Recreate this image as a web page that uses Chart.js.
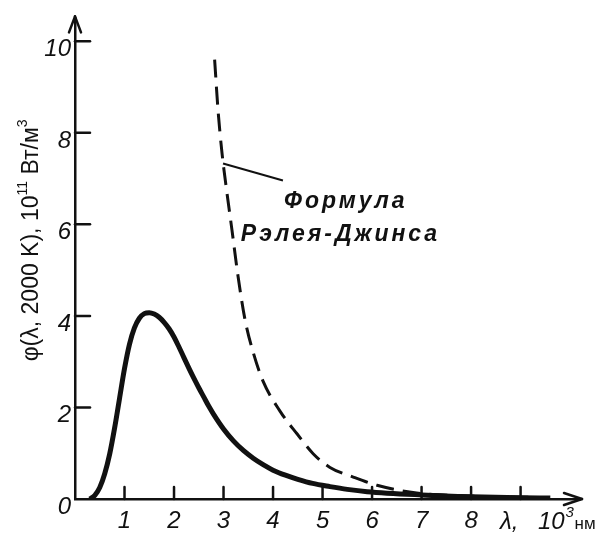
<!DOCTYPE html>
<html lang="ru">
<head>
<meta charset="utf-8">
<title>φ(λ, 2000 K)</title>
<script src="https://cdn.jsdelivr.net/npm/chart.js@4.4.1/dist/chart.umd.min.js"></script>
<style>
  html, body { margin: 0; padding: 0; background: #fff; }
  #wrap { width: 600px; height: 540px; }
</style>
</head>
<body>
<div id="wrap"><canvas id="planck" width="600" height="540"></canvas></div>
<script>
/* ============================================================
   Planck vs Rayleigh–Jeans, T = 2000 K
   ============================================================ */

/* ── DATA ── */
const lambdaPlanck = [0.3, 0.4, 0.5, 0.6, 0.7, 0.8, 0.9, 1.0, 1.1, 1.2, 1.3, 1.4, 1.5, 1.6, 1.7, 1.8, 1.9, 2.0, 2.1, 2.2, 2.3, 2.4, 2.5, 2.6, 2.7, 2.8, 3.0, 3.2, 3.4, 3.6, 3.8, 4.0, 4.25, 4.5, 4.8, 5.15, 5.5, 5.9, 7.0, 8.0, 9.0, 9.6];
const phiPlanck    = [0, 0.08, 0.25, 0.55, 0.98, 1.55, 2.2, 2.85, 3.38, 3.74, 3.95, 4.05, 4.07, 4.04, 3.97, 3.86, 3.72, 3.54, 3.32, 3.09, 2.86, 2.64, 2.43, 2.23, 2.03, 1.85, 1.53, 1.27, 1.06, 0.89, 0.75, 0.63, 0.52, 0.43, 0.34, 0.27, 0.21, 0.16, 0.09, 0.05, 0.03, 0.02];

const lambdaRJ = [2.82, 2.89, 2.97, 3.07, 3.17, 3.29, 3.43, 3.6, 3.8, 4.14, 4.48, 4.81, 5.15, 5.62, 6.1, 6.9, 7.6, 8.5, 9.5];
const phiRJ    = [9.6, 8.48, 7.55, 6.68, 5.88, 4.89, 3.94, 3.2, 2.57, 1.92, 1.43, 0.99, 0.69, 0.48, 0.3, 0.13, 0.08, 0.05, 0.03];

const leaderX = [2.99, 4.2];
const leaderY = [7.33, 6.96];

const yTickValues = [0, 2, 4, 6, 8, 10];
const xTickLabels = ['', '1', '2', '3', '4', '5', '6', '7', '8', '', ''];

const noteLines = ['Формула', 'Рэлея-Джинса'];
const noteX     = [4.22, 3.35];
const noteY     = [6.5, 5.77];

/* rich text pieces: [text, isSuperscript] */
const yTitle = [['φ(λ, 2000 K), 10', false], ['11', true], [' Вт/м', false], ['3', true]];

const INK = '#111';
const FONT = '"Liberation Sans", Arial, sans-serif';
const toPoints = (xs, ys) => xs.map((v, i) => ({ x: v, y: ys[i] }));

function drawRich(ctx, parts, size, style, cx, cy) {
    const base = `${style} ${size}px ${FONT}`;
    const sup  = `${style} ${Math.round(size * 0.62)}px ${FONT}`;
    const widths = parts.map(([t, s]) => { ctx.font = s ? sup : base; return ctx.measureText(t).width; });
    let px = cx - widths.reduce((a, b) => a + b, 0) / 2;
    parts.forEach(([t, s], i) => {
        ctx.font = s ? sup : base;
        ctx.fillText(t, px, s ? cy - size * 0.38 : cy);
        px += widths[i];
    });
}

/* ── DECOR: inward ticks, arrows, titles, note ── */
const axisDecor = {
    id: 'axisDecor',
    afterDraw(chart) {
        const { ctx, chartArea: a, scales: { x, y } } = chart;
        const seg = (x1, y1, x2, y2) => { ctx.beginPath(); ctx.moveTo(x1, y1); ctx.lineTo(x2, y2); ctx.stroke(); };

        ctx.save();
        ctx.strokeStyle = INK;
        ctx.fillStyle = INK;
        ctx.lineWidth = 2.5;
        ctx.lineCap = 'round';

        y.ticks.forEach(t => {
            if (t.value === 0) return;
            const py = y.getPixelForValue(t.value);
            seg(a.left, py, a.left + 15, py);
        });
        x.ticks.forEach(t => {
            if (t.value === 0 || t.value > 9) return;
            const px = x.getPixelForValue(t.value);
            seg(px, a.bottom, px, a.bottom - 12);
        });

        /* arrows */
        seg(a.left - 6, a.top + 14, a.left, a.top - 2);
        seg(a.left + 6, a.top + 14, a.left, a.top - 2);
        seg(a.right - 16, a.bottom - 6, a.right + 2, a.bottom);
        seg(a.right - 16, a.bottom + 6, a.right + 2, a.bottom);

        ctx.textAlign = 'left';
        ctx.textBaseline = 'middle';

        /* y title */
        ctx.save();
        ctx.translate(32, y.getPixelForValue(5.65));
        ctx.rotate(-Math.PI / 2);
        drawRich(ctx, yTitle, 23, 'normal', 0, 0);
        ctx.restore();

        /* x title */
        const ly = a.bottom + 23;
        ctx.font = `italic 24px ${FONT}`;
        ctx.textAlign = 'center';
        ctx.fillText('λ,', x.getPixelForValue(8.77), ly);
        ctx.textAlign = 'left';
        const x10 = x.getPixelForValue(9.35);
        ctx.fillText('10', x10, ly);
        const w10 = ctx.measureText('10').width;
        ctx.font = `italic 15px ${FONT}`;
        ctx.fillText('3', x10 + w10 + 1, ly - 9);
        ctx.font = `17px ${FONT}`;
        ctx.fillText('нм', x10 + w10 + 10, ly + 2);

        /* Rayleigh–Jeans note */
        ctx.font = `italic bold 23px ${FONT}`;
        ctx.letterSpacing = '3px';
        noteLines.forEach((s, i) => {
            ctx.fillText(s, x.getPixelForValue(noteX[i]), y.getPixelForValue(noteY[i]));
        });
        ctx.restore();
    }
};

/* ── CHART ── */
const canvas = document.getElementById('planck');
new Chart(canvas, {
    type: 'scatter',
    data: {
        datasets: [
            {
                data: toPoints(lambdaPlanck, phiPlanck),
                showLine: true, borderColor: INK, borderWidth: 5,
                pointRadius: 0, cubicInterpolationMode: 'monotone'
            },
            {
                data: toPoints(lambdaRJ, phiRJ),
                showLine: true, borderColor: INK, borderWidth: 3,
                borderDash: [18, 9], pointRadius: 0, cubicInterpolationMode: 'monotone'
            },
            {
                data: toPoints(leaderX, leaderY),
                showLine: true, borderColor: INK, borderWidth: 2, pointRadius: 0
            }
        ]
    },
    options: {
        responsive: false,
        animation: false,
        layout: { padding: { top: 12, right: 20, left: 0, bottom: 0 } },
        plugins: { legend: { display: false }, tooltip: { enabled: false } },
        scales: {
            x: {
                type: 'linear', min: 0, max: 10.2,
                grid: { display: false, drawTicks: false },
                border: { display: true, color: INK, width: 2.5 },
                ticks: {
                    stepSize: 1, includeBounds: false, padding: 8, color: INK,
                    maxRotation: 0, autoSkip: false,
                    font: { family: FONT, size: 24, style: 'italic' },
                    callback: v => xTickLabels[v] ?? ''
                },
                afterFit: s => { s.height = 41; }
            },
            y: {
                type: 'linear', min: 0, max: 10.5,
                grid: { display: false, drawTicks: false },
                border: { display: true, color: INK, width: 2.5 },
                ticks: {
                    stepSize: 2, includeBounds: false, padding: 4, color: INK, labelOffset: 8,
                    font: { family: FONT, size: 24, style: 'italic' },
                    callback: v => yTickValues.includes(v) ? String(v) : ''
                },
                afterFit: s => { s.width = 75; }
            }
        }
    },
    plugins: [axisDecor]
});
</script>
</body>
</html>
